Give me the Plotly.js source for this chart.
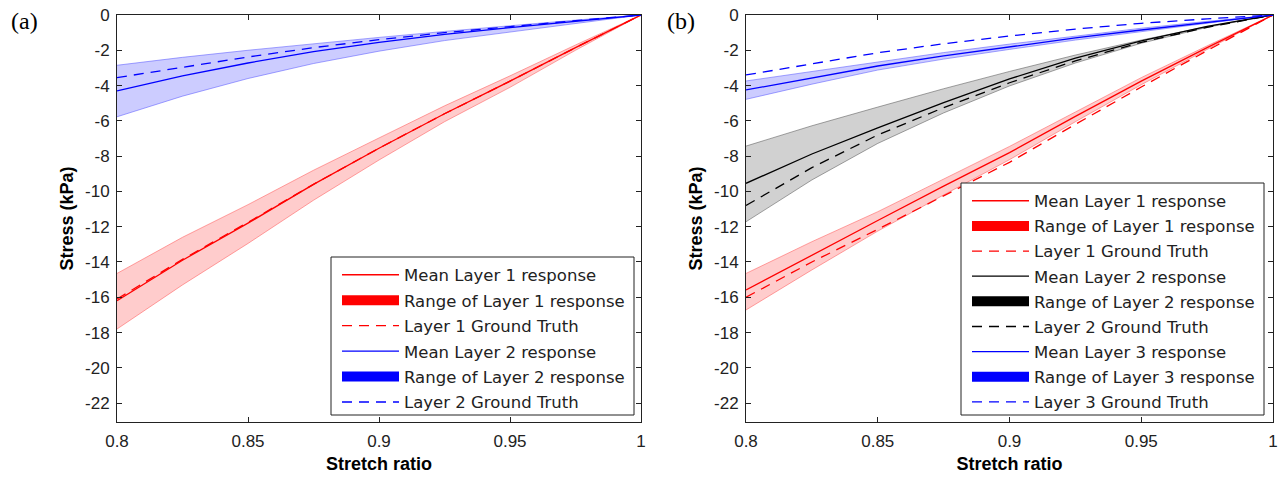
<!DOCTYPE html>
<html>
<head>
<meta charset="utf-8">
<script src="https://cdn.plot.ly/plotly-3.0.1.min.js"></script>
<style>html,body{margin:0;padding:0;background:#fff;}#chart{width:1285px;height:477px;}</style>
</head>
<body>
<div id="chart"></div>
<script>
// ---- data ----
const stretch = [0.8, 0.825, 0.85, 0.875, 0.9, 0.925, 0.95, 0.975, 1.0];

// panel (a)
const aL1Mean  = [-16.2, -13.9, -11.8, -9.6, -7.55, -5.6, -3.75, -1.85, 0];
const aL1Upper = [-14.65, -12.6, -10.75, -8.8, -6.97, -5.15, -3.45, -1.7, 0];
const aL1Lower = [-17.8, -15.3, -12.95, -10.5, -8.22, -6.05, -4.1, -2.0, 0];
const aL1Truth = [-16.1, -13.85, -11.75, -9.6, -7.55, -5.6, -3.75, -1.85, 0];
const aL2Mean  = [-4.3, -3.45, -2.72, -2.08, -1.55, -1.1, -0.72, -0.35, 0];
const aL2Upper = [-2.85, -2.4, -2.0, -1.62, -1.27, -0.93, -0.6, -0.29, 0];
const aL2Lower = [-5.77, -4.6, -3.6, -2.75, -2.05, -1.45, -0.95, -0.47, 0];
const aL2Truth = [-3.55, -2.95, -2.38, -1.85, -1.4, -1.0, -0.65, -0.32, 0];

// panel (b)
const bL1Mean  = [-15.59, -13.6, -11.65, -9.7, -7.8, -5.75, -3.75, -1.85, 0];
const bL1Upper = [-14.65, -12.85, -11.15, -9.3, -7.45, -5.5, -3.55, -1.75, 0];
const bL1Lower = [-16.72, -14.45, -12.25, -10.2, -8.2, -6.05, -3.95, -1.95, 0];
const bL1Truth = [-16.0, -14.0, -12.15, -10.25, -8.35, -6.2, -4.08, -2.02, 0];
const bL2Mean  = [-9.54, -7.88, -6.4, -4.97, -3.62, -2.45, -1.46, -0.65, 0];
const bL2Upper = [-7.43, -6.28, -5.22, -4.18, -3.2, -2.27, -1.42, -0.66, 0];
const bL2Lower = [-11.72, -9.35, -7.28, -5.55, -4.02, -2.72, -1.6, -0.7, 0];
const bL2Truth = [-10.8, -8.65, -6.8, -5.25, -3.84, -2.6, -1.55, -0.7, 0];
const bL3Mean  = [-4.25, -3.55, -2.89, -2.32, -1.8, -1.3, -0.85, -0.42, 0];
const bL3Upper = [-3.74, -3.2, -2.65, -2.13, -1.65, -1.18, -0.75, -0.36, 0];
const bL3Lower = [-4.78, -3.92, -3.12, -2.5, -1.95, -1.42, -0.95, -0.47, 0];
const bL3Truth = [-3.4, -2.75, -2.14, -1.63, -1.19, -0.8, -0.47, -0.22, 0];

const xTickVals = [0.8, 0.85, 0.9, 0.95, 1];
const xTickText = ['0.8', '0.85', '0.9', '0.95', '1'];
const yTickVals = [0, -2, -4, -6, -8, -10, -12, -14, -16, -18, -20, -22];
const yTickText = ['0', '-2', '-4', '-6', '-8', '-10', '-12', '-14', '-16', '-18', '-20', '-22'];

// ---- styles ----
const COL = {
  red:   {line: '#ff0000', fill: 'rgba(255,0,0,0.2)',   edge: 'rgba(255,90,90,0.55)', solid: '#ff0000'},
  blue:  {line: '#0000ff', fill: 'rgba(0,0,255,0.2)',   edge: 'rgba(90,90,255,0.55)', solid: '#0000ff'},
  black: {line: '#000000', fill: 'rgba(0,0,0,0.18)',    edge: 'rgba(90,90,90,0.55)',  solid: '#000000'}
};
const DASH = '10px,7px';

function layerTraces(xa, ya, legend, layerNo, col, mean, upper, lower, truth, rank0) {
  const c = COL[col];
  const band = {
    x: stretch.concat(stretch.slice().reverse()),
    y: upper.concat(lower.slice().reverse()),
    xaxis: xa, yaxis: ya, type: 'scatter', mode: 'lines', fill: 'toself',
    fillcolor: c.fill, line: {color: c.edge, width: 1}, showlegend: false, hoverinfo: 'skip'
  };
  const meanTr = {
    x: stretch, y: mean, xaxis: xa, yaxis: ya, type: 'scatter', mode: 'lines',
    line: {color: c.line, width: 1.3}, name: 'Mean Layer ' + layerNo + ' response',
    legend: legend, legendrank: rank0, legendgroup: legend + 'm' + layerNo
  };
  const rangeKey = {
    x: [null], y: [null], xaxis: xa, yaxis: ya, type: 'scatter', mode: 'lines',
    line: {color: c.solid, width: 17}, name: 'Range of Layer ' + layerNo + ' response',
    legend: legend, legendrank: rank0 + 1, legendgroup: legend + 'r' + layerNo
  };
  const truthTr = {
    x: stretch, y: truth, xaxis: xa, yaxis: ya, type: 'scatter', mode: 'lines',
    line: {color: c.line, width: 1.3, dash: DASH}, name: 'Layer ' + layerNo + ' Ground Truth',
    legend: legend, legendrank: rank0 + 2, legendgroup: legend + 't' + layerNo
  };
  return {band: band, lines: [meanTr, truthTr], key: rangeKey};
}

const groups = [
  layerTraces('x', 'y', 'legend', 1, 'red', aL1Mean, aL1Upper, aL1Lower, aL1Truth, 10),
  layerTraces('x', 'y', 'legend', 2, 'blue', aL2Mean, aL2Upper, aL2Lower, aL2Truth, 20),
  layerTraces('x2', 'y2', 'legend2', 1, 'red', bL1Mean, bL1Upper, bL1Lower, bL1Truth, 10),
  layerTraces('x2', 'y2', 'legend2', 2, 'black', bL2Mean, bL2Upper, bL2Lower, bL2Truth, 20),
  layerTraces('x2', 'y2', 'legend2', 3, 'blue', bL3Mean, bL3Upper, bL3Lower, bL3Truth, 30)
];
const data = [];
groups.forEach(g => data.push(g.band));
groups.forEach(g => { data.push(g.lines[1]); data.push(g.lines[0]); data.push(g.key); });

const W = 1285, H = 477;
const px = v => v / W, py = v => 1 - v / H;
const tickFont = {family: 'Liberation Sans, Arial, sans-serif', size: 17, color: '#222'};
const titleFont = {family: 'Liberation Sans, Arial, sans-serif', size: 18, color: '#000', weight: 'bold'};

function xAxis(d0, d1, anchor) {
  return {
    domain: [d0, d1], anchor: anchor, range: [0.8, 1.0], tickvals: xTickVals, ticktext: xTickText,
    ticks: 'inside', ticklen: 5, tickcolor: '#222', showline: true, linecolor: '#222', linewidth: 1,
    mirror: 'ticks', showgrid: false, zeroline: false, tickfont: tickFont, ticklabelstandoff: 4,
    title: {text: '<b>Stretch ratio</b>', font: titleFont, standoff: 6}
  };
}
function yAxis(anchor) {
  return {
    domain: [py(422), py(15)], anchor: anchor, range: [-23.07, 0], tickvals: yTickVals, ticktext: yTickText,
    ticks: 'inside', ticklen: 5, tickcolor: '#222', showline: true, linecolor: '#222', linewidth: 1,
    mirror: 'ticks', showgrid: false, zeroline: false, tickfont: tickFont, ticklabelstandoff: 3,
    title: {text: '<b>Stress (kPa)</b>', font: titleFont, standoff: 6}
  };
}
const legendBase = {
  bgcolor: 'rgba(0,0,0,0)', borderwidth: 0,
  font: {family: 'DejaVu Sans, Verdana, sans-serif', size: 16.5, color: '#222'},
  itemwidth: 57, traceorder: 'grouped', xanchor: 'left', yanchor: 'top',
  itemclick: false, itemdoubleclick: false
};

// legend frames (paper coordinates)
function frame(x0, y0, x1, y1) {
  return {type: 'rect', xref: 'paper', yref: 'paper', x0: px(x0), x1: px(x1), y0: py(y1), y1: py(y0),
          line: {color: '#222', width: 1}, fillcolor: '#fff', layer: 'above'};
}

const layout = {
  width: W, height: H, margin: {l: 0, r: 0, t: 0, b: 0},
  paper_bgcolor: '#fff', plot_bgcolor: '#fff', showlegend: true,
  xaxis: xAxis(px(117), px(641), 'y'),
  yaxis: yAxis('x'),
  xaxis2: xAxis(px(746), px(1273), 'y2'),
  yaxis2: yAxis('x2'),
  legend: Object.assign({}, legendBase, {x: px(337), y: py(257.5), tracegroupgap: 1}),
  legend2: Object.assign({}, legendBase, {x: px(967), y: py(183.5), tracegroupgap: 0.7}),
  shapes: [frame(331, 257, 634, 415), frame(961, 183, 1264, 415)],
  annotations: [
    {text: '(a)', xref: 'paper', yref: 'paper', x: px(9), y: py(21), xanchor: 'left', yanchor: 'middle',
     showarrow: false, font: {family: 'Liberation Serif, Times New Roman, serif', size: 24, color: '#000'}},
    {text: '(b)', xref: 'paper', yref: 'paper', x: px(665), y: py(21), xanchor: 'left', yanchor: 'middle',
     showarrow: false, font: {family: 'Liberation Serif, Times New Roman, serif', size: 24, color: '#000'}}
  ]
};

Plotly.newPlot('chart', data, layout, {displayModeBar: false, staticPlot: true});
</script>
</body>
</html>
